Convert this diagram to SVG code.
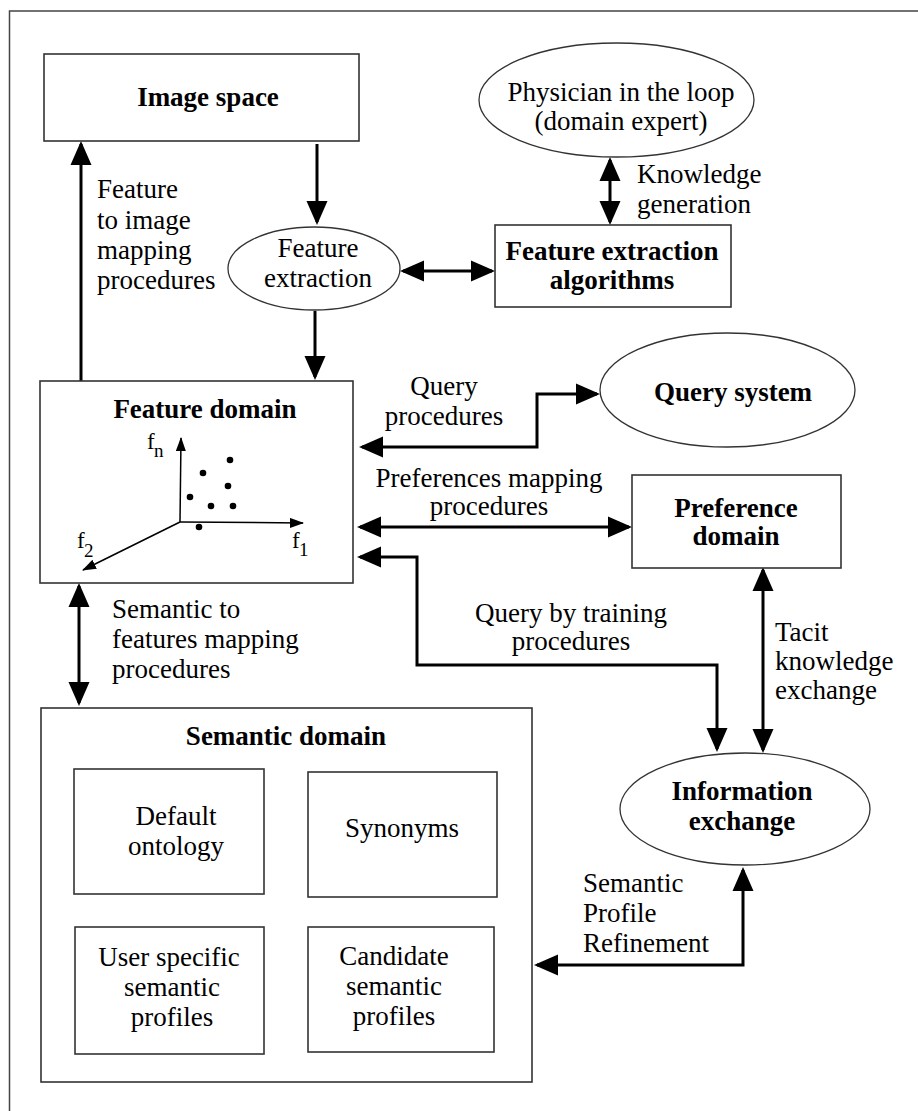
<svg xmlns="http://www.w3.org/2000/svg" width="918" height="1111" viewBox="0 0 918 1111">
<style>
  .box{fill:#fff;stroke:#333;stroke-width:1.6}
  .ell{fill:#fff;stroke:#333;stroke-width:1.3}
  .t{font-family:"Liberation Serif","Times New Roman",serif;font-size:27px;fill:#000}
  .b{font-weight:bold}
  .c{text-anchor:middle}
  .con{fill:none;stroke:#000;stroke-width:3;marker-end:url(#ah)}
  .bi{marker-start:url(#ah)}
  .ax{fill:none;stroke:#000;stroke-width:1.5;marker-end:url(#sa)}
  .sub{font-family:"Liberation Serif","Times New Roman",serif;font-size:23px;fill:#000}
  .sub2{font-family:"Liberation Serif","Times New Roman",serif;font-size:19px;fill:#000}
</style>
<defs>
  <marker id="ah" markerUnits="userSpaceOnUse" markerWidth="24" markerHeight="22" viewBox="0 0 24 22" refX="21" refY="11" orient="auto-start-reverse">
    <path d="M0,0.5 L24,11 L0,21.5 z" fill="#000"/>
  </marker>
  <marker id="sa" markerUnits="userSpaceOnUse" markerWidth="14" markerHeight="10" viewBox="0 0 14 10" refX="13" refY="5" orient="auto">
    <path d="M0,0 L14,5 L0,10 z" fill="#000"/>
  </marker>
</defs>
<rect width="918" height="1111" fill="#fff"/>
<path d="M9.5,1111 V11 H918" fill="none" stroke="#444" stroke-width="1.5"/>

<g id="connectors">
  <path class="con" d="M317,144 V222"/>
  <path class="con" d="M315,311 V377"/>
  <path class="con bi" d="M403,271 H492"/>
  <path class="con bi" d="M610,160 V222"/>
  <path class="con" d="M81,381 V144"/>
  <path class="con bi" d="M362,447 H537 V394 H597"/>
  <path class="con bi" d="M360,527 H629"/>
  <path class="con bi" d="M360,557 H417 V665 H717 V749"/>
  <path class="con bi" d="M763,570 V750"/>
  <path class="con bi" d="M743,870 V965 H537"/>
  <path class="con bi" d="M79,586 V703"/>
</g>

<g id="image-space">
  <rect class="box" x="44" y="54" width="315" height="87"/>
  <text class="t b c" x="208" y="106">Image space</text>
</g>
<text class="t" x="97" y="198">Feature</text>
<text class="t" x="97" y="229">to image</text>
<text class="t" x="97" y="259">mapping</text>
<text class="t" x="97" y="289">procedures</text>

<g id="feature-extraction">
  <ellipse class="ell" cx="314" cy="268.5" rx="86" ry="41.5"/>
  <text class="t c" x="318" y="257">Feature</text>
  <text class="t c" x="318" y="287">extraction</text>
</g>

<g id="physician">
  <ellipse class="ell" cx="616.5" cy="100" rx="137.5" ry="57"/>
  <text class="t c" x="621" y="101">Physician in the loop</text>
  <text class="t c" x="621" y="130">(domain expert)</text>
</g>
<text class="t" x="637" y="183">Knowledge</text>
<text class="t" x="637" y="213">generation</text>

<g id="feature-extraction-algorithms">
  <rect class="box" x="495" y="225" width="236" height="82"/>
  <text class="t b c" x="612" y="260">Feature extraction</text>
  <text class="t b c" x="612" y="289">algorithms</text>
</g>

<g id="feature-domain">
  <rect class="box" x="40" y="381" width="313" height="202"/>
  <text class="t b c" x="205" y="418">Feature domain</text>
  <path class="ax" d="M180,522 L181,438"/>
  <path class="ax" d="M180,522 L303,523"/>
  <path class="ax" d="M180,522 L83,570"/>
  <g fill="#000">
    <circle cx="230" cy="460" r="3.3"/>
    <circle cx="203" cy="473" r="3.3"/>
    <circle cx="228" cy="486" r="3.3"/>
    <circle cx="190" cy="497" r="3.3"/>
    <circle cx="211" cy="506" r="3.3"/>
    <circle cx="233" cy="506" r="3.3"/>
    <circle cx="199" cy="527" r="3.3"/>
  </g>
  <text class="sub" x="147" y="449">f</text><text class="sub2" x="154" y="457">n</text>
  <text class="sub" x="292" y="548">f</text><text class="sub2" x="299" y="556">1</text>
  <text class="sub" x="77" y="548">f</text><text class="sub2" x="84" y="557">2</text>
</g>

<text class="t c" x="444" y="395">Query</text>
<text class="t c" x="444" y="425">procedures</text>

<g id="query-system">
  <ellipse class="ell" cx="727.5" cy="390" rx="127.5" ry="57"/>
  <text class="t b c" x="733" y="401">Query system</text>
</g>

<text class="t c" x="489" y="487">Preferences mapping</text>
<text class="t c" x="489" y="515">procedures</text>

<g id="preference-domain">
  <rect class="box" x="632" y="475" width="209" height="93"/>
  <text class="t b c" x="736" y="517">Preference</text>
  <text class="t b c" x="736" y="545">domain</text>
</g>

<text class="t c" x="571" y="622">Query by training</text>
<text class="t c" x="571" y="650">procedures</text>

<text class="t" x="775" y="641">Tacit</text>
<text class="t" x="775" y="670">knowledge</text>
<text class="t" x="775" y="699">exchange</text>

<text class="t" x="112" y="618">Semantic to</text>
<text class="t" x="112" y="648">features mapping</text>
<text class="t" x="112" y="678">procedures</text>

<g id="semantic-domain">
  <rect class="box" x="41" y="708" width="491" height="374"/>
  <text class="t b c" x="286" y="745">Semantic domain</text>
</g>
<g id="default-ontology">
  <rect class="box" x="74" y="769" width="190" height="125"/>
  <text class="t c" x="176" y="825">Default</text>
  <text class="t c" x="176" y="855">ontology</text>
</g>
<g id="synonyms">
  <rect class="box" x="308" y="772" width="189" height="125"/>
  <text class="t c" x="402" y="837">Synonyms</text>
</g>
<g id="user-specific">
  <rect class="box" x="75" y="927" width="189" height="127"/>
  <text class="t c" x="169" y="966">User specific</text>
  <text class="t c" x="172" y="996">semantic</text>
  <text class="t c" x="172" y="1026">profiles</text>
</g>
<g id="candidate">
  <rect class="box" x="308" y="927" width="186" height="125"/>
  <text class="t c" x="394" y="965">Candidate</text>
  <text class="t c" x="394" y="995">semantic</text>
  <text class="t c" x="394" y="1025">profiles</text>
</g>

<g id="information-exchange">
  <ellipse class="ell" cx="745" cy="809" rx="125" ry="56"/>
  <text class="t b c" x="742" y="800">Information</text>
  <text class="t b c" x="742" y="830">exchange</text>
</g>

<text class="t" x="583" y="892">Semantic</text>
<text class="t" x="583" y="922">Profile</text>
<text class="t" x="583" y="952">Refinement</text>
</svg>
